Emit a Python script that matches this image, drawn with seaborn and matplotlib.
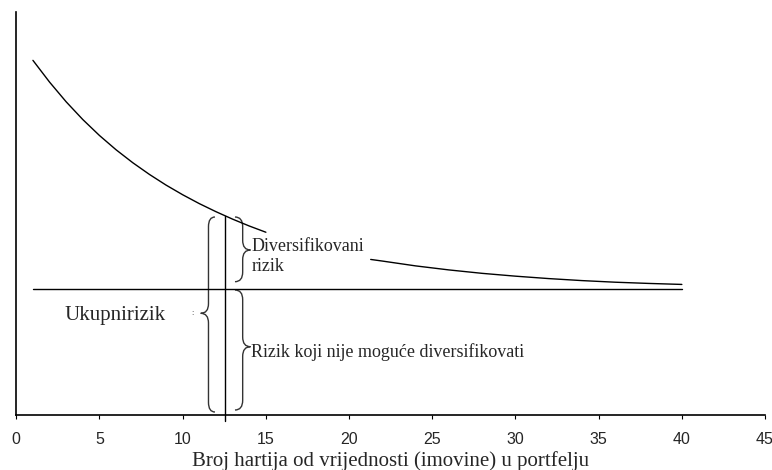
import numpy as np
import pandas as pd
import matplotlib
matplotlib.use("Agg")
import matplotlib.pyplot as plt
from matplotlib.path import Path
from matplotlib.patches import PathPatch
import seaborn as sns

# ---- data ----
seg1_x = [1, 2, 3, 4, 5, 6, 7, 8, 9, 10, 11, 12, 13, 14, 15]
seg1_y = [88.0, 82.6, 77.7, 73.3, 69.35, 65.8, 62.6, 59.7, 57.05, 54.65, 52.45, 50.45, 48.6, 46.9, 45.35]
seg2_x = [21.3, 22, 24, 26, 28, 30, 32, 34, 36, 38, 40]
seg2_y = [38.6, 38.2, 37.0, 36.0, 35.15, 34.45, 33.85, 33.35, 32.95, 32.65, 32.4]
systematic_x = [1, 40]
systematic_y = [31.2, 31.2]
marker_x = 12.55
x_ticks = [0, 5, 10, 15, 20, 25, 30, 35, 40, 45]
x_label = "Broj hartija od vrijednosti (imovine) u portfelju"
label_total = "Ukupnirizik"
label_div1 = "Diversifikovani"
label_div2 = "rizik"
label_sys = "Rizik koji nije moguće diversifikovati"

sns.set_style("ticks")
plt.rcParams["font.family"] = ["Liberation Sans", "DejaVu Sans"]

fig = plt.figure(figsize=(7.72, 4.70), dpi=100)
ax = fig.add_axes([0.0211, 0.117, 0.991 - 0.0211, 0.9745 - 0.117])

df = pd.DataFrame({
    "x": seg1_x + seg2_x,
    "y": seg1_y + seg2_y,
    "seg": ["a"] * len(seg1_x) + ["b"] * len(seg2_x),
})
sns.lineplot(data=df, x="x", y="y", units="seg", estimator=None,
             color="black", linewidth=1.0, ax=ax, legend=False)
sns.lineplot(x=systematic_x, y=systematic_y, color="black", linewidth=1.0, ax=ax)

# vertical marker from axis up to the curve
ytop = np.interp(marker_x, seg1_x, seg1_y)
ax.plot([marker_x, marker_x], [-1.5, ytop], color="black", linewidth=1.0, clip_on=False)


def brace(ax, x_stroke, x_tip, x_end, top, bottom, tip, r=2.4):
    verts = [
        (x_end, top), (x_stroke, top), (x_stroke, top - r),
        (x_stroke, tip + r), (x_stroke, tip), (x_tip, tip),
        (x_stroke, tip), (x_stroke, tip - r),
        (x_stroke, bottom + r), (x_stroke, bottom), (x_end, bottom),
    ]
    codes = [Path.MOVETO, Path.CURVE3, Path.CURVE3,
             Path.LINETO, Path.CURVE3, Path.CURVE3,
             Path.CURVE3, Path.CURVE3,
             Path.LINETO, Path.CURVE3, Path.CURVE3]
    ax.add_patch(PathPatch(Path(verts, codes), facecolor="none",
                           edgecolor="#333333", linewidth=1.0, clip_on=False))


def px2x(px):
    return (px - 16.3) / 16.64


def py2y(py):
    return (415 - py) / 4.03


# big left brace (total risk)
brace(ax, px2x(208.5), px2x(200.7), px2x(215), py2y(217), py2y(412), py2y(313.3))
# upper right brace (diversifiable)
brace(ax, px2x(242.7), px2x(250.5), px2x(235), py2y(217), py2y(281.7), py2y(250))
# lower right brace (systematic)
brace(ax, px2x(242.7), px2x(250.5), px2x(235), py2y(290), py2y(410), py2y(346.7))

serif = ["Liberation Serif", "DejaVu Serif"]
ax.text(px2x(65), py2y(320), label_total, family=serif, fontsize=15, va="baseline", ha="left")
ax.text(px2x(251.5), py2y(250.7), label_div1, family=serif, fontsize=13, va="baseline", ha="left")
ax.text(px2x(251.5), py2y(271), label_div2, family=serif, fontsize=13, va="baseline", ha="left")
ax.text(px2x(251.5), py2y(356.7), label_sys, family=serif, fontsize=13, va="baseline", ha="left")
ax.text(px2x(193), py2y(313), ":", family=serif, fontsize=6, va="center", ha="center", color="#444444")

ax.set_xlim(0, 45)
ax.set_ylim(0, 100)
ax.set_xticks(x_ticks)
ax.set_xticklabels([str(t) for t in x_ticks], fontsize=11.5)
ax.set_yticks([])
ax.set_xlabel(x_label, family=serif, fontsize=15, labelpad=3)
ax.set_ylabel("")
ax.tick_params(axis="x", length=3, width=0.8, pad=9, color="black")
for s in ["top", "right"]:
    ax.spines[s].set_visible(False)
for s in ["left", "bottom"]:
    ax.spines[s].set_color("black")
    ax.spines[s].set_linewidth(1.2)

fig.savefig("out.png", dpi=100)
